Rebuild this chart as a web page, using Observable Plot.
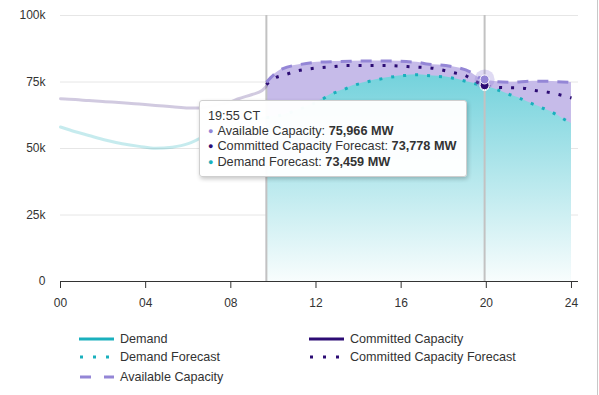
<!DOCTYPE html>
<html><head><meta charset="utf-8">
<script src="https://cdn.jsdelivr.net/npm/d3@7"></script>
<script src="https://cdn.jsdelivr.net/npm/@observablehq/plot@0.6"></script>
<style>
body{margin:0;background:#fff;font-family:"Liberation Sans",Arial,sans-serif;}
#wrap{position:relative;width:599px;height:395px;overflow:hidden;background:#fff}
#edge{position:absolute;left:597px;top:0;width:1px;height:395px;background:#c8c8c8}
#tip{position:absolute;left:199px;top:100px;width:268px;height:77px;box-sizing:border-box;background:rgba(255,255,255,0.97);border:1px solid #cfcfcf;border-radius:3px;box-shadow:1px 2px 4px rgba(0,0,0,0.22);padding:8px 8px;font-size:12.7px;line-height:14.7px;color:#333;white-space:nowrap}
#tip .b{font-size:9px;margin-right:4px;position:relative;top:-1px}
.leg{position:absolute;height:16px;display:flex;align-items:center;font-size:12.6px;color:#333;white-space:nowrap}
.leg svg{margin-right:6px}
</style></head><body><div id="wrap"><div id="edge"></div></div>
<script>
// ---- data (values in MW) ----
const xTicks = [0, 4, 8, 12, 16, 20, 24];
const yTicks = [0, 25000, 50000, 75000, 100000];
const nowHour = 9.67;      // 09:40
const hoverHour = 19.92;   // 19:55

const pastHours     = [0, 0.7, 1.33, 2.1, 2.9, 3.7, 4.46, 5.25, 6.0, 6.5, 7.28, 8.0, 8.36, 9.0, 9.47, 9.67];
const pastDemand    = [58100, 56300, 54900, 53200, 51800, 50800, 50100, 50500, 51800, 53600, 56200, 58400, 59400, 60600, 61300, 61600];
const pastCommitted = [68700, 68400, 68000, 67600, 67200, 66700, 66200, 65700, 65200, 65200, 66200, 67600, 68700, 70300, 71800, 73400];

const availHours  = [9.67, 10.0, 10.45, 11.27, 12.06, 13.62, 15.17, 16.75, 17.2, 18.3, 19.26, 19.6, 19.92, 20.5, 21.1, 22.2, 23.1, 24];
const availValues = [74900, 77600, 80000, 81600, 82400, 82800, 82900, 82400, 81800, 80900, 78700, 76900, 75966, 75100, 74900, 75300, 75200, 74800];

const cfHours  = [9.67, 9.86, 10.65, 11.18, 11.74, 12.82, 13.47, 15.17, 16.75, 17.38, 18.46, 19.02, 19.4, 19.92, 20.5, 21.7, 22.3, 22.86, 23.4, 24];
const cfValues = [74000, 75500, 78000, 79300, 80000, 80800, 81200, 81200, 80600, 80300, 78500, 77400, 75600, 73778, 73000, 72700, 71800, 71200, 70300, 69000];

const dfHours  = [9.67, 10.5, 11.3, 11.8, 12.29, 12.76, 13.29, 13.76, 14.33, 14.88, 15.5, 16.11, 16.75, 17.22, 18.32, 18.87, 19.4, 19.92, 20.51, 20.98, 21.51, 21.98, 22.55, 23.1, 23.56, 24];
const dfValues = [61600, 62800, 65000, 66600, 68500, 70600, 72100, 73700, 74900, 75900, 76800, 77400, 77700, 77400, 76600, 75600, 74500, 73459, 72100, 70600, 69100, 67400, 65500, 63600, 61400, 59400];

const tipTitle = "19:55 CT";
const tipNames  = ["Available Capacity", "Committed Capacity Forecast", "Demand Forecast"];
const tipValues = [75966, 73778, 73459];

const legendNames = ["Demand", "Committed Capacity", "Demand Forecast", "Committed Capacity Forecast", "Available Capacity"];

// ---- styles ----
const C = {demand:"#1ab0bd", committed:"#2c0c74", avail:"#9486d6", availFill:"#c6bbe9", grid:"#e6e6e6", plotLine:"#c2c2c2"};

const zip = (h, v) => h.map((d, i) => ({h: d, v: v[i]}));
const pastD = zip(pastHours, pastDemand);
const pastC = zip(pastHours, pastCommitted);
const avail = zip(availHours, availValues);
const cf = zip(cfHours, cfValues);
const df = zip(dfHours, dfValues);
const hover = [
  {h: hoverHour, v: tipValues[0], c: C.avail},
  {h: hoverHour, v: tipValues[1], c: C.committed},
  {h: hoverHour, v: tipValues[2], c: C.demand}
];

const curve = "monotone-x";
const butt = {strokeLinecap: "butt", strokeLinejoin: "round"};
const chart = Plot.plot({
  width: 599, height: 320,
  marginLeft: 60, marginRight: 21, marginTop: 15, marginBottom: 39,
  style: {fontFamily: '"Liberation Sans", Arial, sans-serif', fontSize: "12px", color: "#333", background: "transparent"},
  x: {domain: [0, 24.33], label: null},
  y: {domain: [0, 100000], label: null},
  marks: [
    Plot.gridY(yTicks, {stroke: C.grid, strokeOpacity: 1}),
    Plot.areaY(avail, {x: "h", y: "v", fill: C.availFill, curve}),
    Plot.areaY(df, {x: "h", y: "v", fill: "url(#tealGrad)", curve}),
    Plot.ruleX([nowHour, hoverHour], {stroke: C.plotLine, strokeWidth: 2}),
    Plot.lineY(pastC, {x: "h", y: "v", stroke: C.committed, strokeOpacity: 0.22, strokeWidth: 3, curve}),
    Plot.lineY(pastD, {x: "h", y: "v", stroke: C.demand, strokeOpacity: 0.25, strokeWidth: 3, curve}),
    Plot.lineY(df, {x: "h", y: "v", stroke: C.demand, strokeWidth: 3, strokeDasharray: "3,9", curve, ...butt}),
    Plot.lineY(cf, {x: "h", y: "v", stroke: C.committed, strokeWidth: 3, strokeDasharray: "3,9", curve, ...butt}),
    Plot.lineY(avail, {x: "h", y: "v", stroke: C.avail, strokeWidth: 3, strokeDasharray: "11,9", curve, ...butt}),
    Plot.dot(hover.slice(0, 1), {x: "h", y: "v", r: 10, fill: "c", fillOpacity: 0.3}),
    Plot.dot(hover.slice().reverse(), {x: "h", y: "v", r: 4.5, fill: "c", stroke: "#fff", strokeWidth: 1}),
    Plot.ruleY([0], {stroke: "#333", strokeWidth: 1}),
    Plot.axisX(xTicks, {tickSize: 7, tickPadding: 10, stroke: "#333", label: null, tickFormat: d => d < 10 ? "0" + d : "" + d}),
    Plot.axisY(yTicks, {tickSize: 0, tickPadding: 15, label: null, tickFormat: d => d === 0 ? "0" : d / 1000 + "k"})
  ]
});

const ns = "http://www.w3.org/2000/svg";
const defs = document.createElementNS(ns, "defs");
defs.innerHTML = '<linearGradient id="tealGrad" x1="0" y1="0" x2="0" y2="1"><stop offset="0" stop-color="#74d2dc"/><stop offset="1" stop-color="#f8fdfd"/></linearGradient>';
chart.insertBefore(defs, chart.firstChild);
chart.style.position = "absolute";
chart.style.left = "0px";
chart.style.top = "0px";

const wrap = document.getElementById("wrap");
wrap.appendChild(chart);

// tooltip
const tip = document.createElement("div");
tip.id = "tip";
const fmt = d3.format(",");
let html = `<div>${tipTitle}</div>`;
tipNames.forEach((n, i) => {
  html += `<div><span class="b" style="color:${hover[i].c}">\u25CF</span>${n}: <b>${fmt(tipValues[i])} MW</b></div>`;
});
tip.innerHTML = html;
wrap.appendChild(tip);

// legend
const legStyles = [
  {c: C.demand, dash: null},
  {c: C.committed, dash: null},
  {c: C.demand, dash: "3,10"},
  {c: C.committed, dash: "3,10"},
  {c: C.avail, dash: "11,13"}
];
const legPos = [[79, 331], [309, 331], [79, 349], [309, 349], [79, 368.5]];
legendNames.forEach((n, i) => {
  const d = document.createElement("div");
  d.className = "leg";
  d.style.left = legPos[i][0] + "px";
  d.style.top = legPos[i][1] + "px";
  const s = legStyles[i];
  d.innerHTML = `<svg width="35" height="8"><line x1="${s.dash ? 1 : 0}" x2="35" y1="4" y2="4" stroke="${s.c}" stroke-width="3" ${s.dash ? `stroke-dasharray="${s.dash}"` : ""}/></svg><span>${n}</span>`;
  wrap.appendChild(d);
});
</script>
</body></html>
